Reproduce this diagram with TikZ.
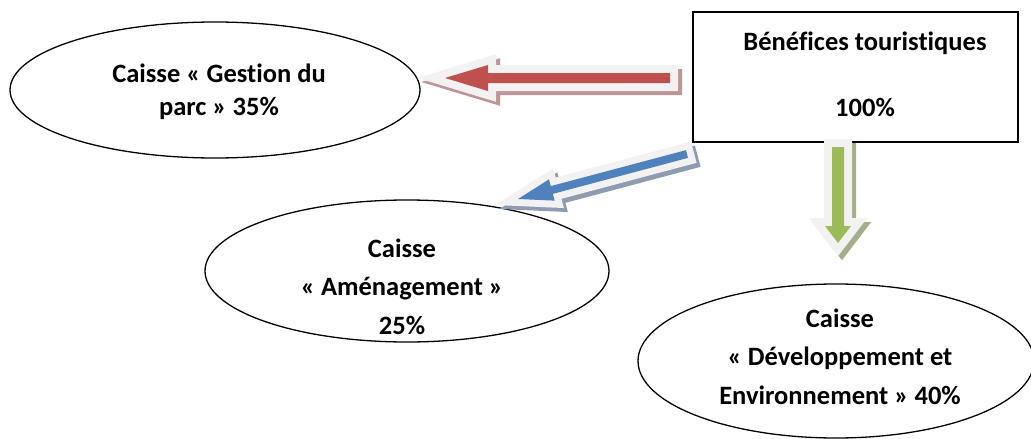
\documentclass[tikz,border=0pt]{standalone}
\usepackage{fontspec}
\setmainfont{Carlito}[Ligatures=NoCommon]
\usetikzlibrary{shapes.geometric,calc}
\definecolor{ared}{HTML}{C0504D}
\definecolor{ablue}{HTML}{4F81BD}
\definecolor{agreen}{HTML}{9BBB59}
\definecolor{sred}{HTML}{BE9494}
\definecolor{sblue}{HTML}{8E9CB2}
\definecolor{sgreen}{HTML}{A3AE8A}
\definecolor{aouter}{HTML}{F2F2F2}
\tikzset{
  ell/.style={draw=black, line width=1.3, ellipse, inner sep=0},
  boxst/.style={draw=black, line width=1.5, rectangle, inner sep=0},
  lbl/.style={font=\bfseries\fontsize{26.5}{38.5}\selectfont, align=center, inner sep=0},
}
% #1 tail, #2 tip, #3 colour, #4 shadow, #5 head length, #6 head half width, #7 shaft half width, #8 margin
\newcommand\blockarrow[8]{%
  \path let \p1=(#1), \p2=(#2) in \pgfextra{%
    \pgfmathsetmacro\baang{atan2(\y1-\y2,\x1-\x2)}%
    \pgfmathsetmacro\balen{veclen(\x1-\x2,\y1-\y2)}%
    \xdef\gbaang{\baang}\xdef\gbalen{\balen}};
  \def\bashape{(0,0) -- (#5,#6) -- (#5,#7) -- (\gbalen,#7) -- (\gbalen,-#7) -- (#5,-#7) -- (#5,-#6) -- cycle}%
  \begin{scope}[shift={(#2)}, shift={(4,4)}, rotate=\gbaang]
    \filldraw[#4, line width=2*#8, line join=miter] \bashape;
  \end{scope}
  \begin{scope}[shift={(#2)}, rotate=\gbaang]
    \filldraw[fill=aouter, draw=aouter, line width=2*#8, line join=miter] \bashape;
    \fill[#3] \bashape;
  \end{scope}}
\begin{document}
\begin{tikzpicture}[x=1pt, y=-1pt]
  \useasboundingbox (0,0) rectangle (1031,439);
  \clip (0,0) rectangle (1031,439);
  \fill[white] (0,0) rectangle (1031,439);
  % nodes
  \node[ell, minimum width=410, minimum height=136] (e1) at (215,90) {};
  \node[ell, minimum width=404, minimum height=142] (e2) at (407,271) {};
  \node[ell, minimum width=396, minimum height=154] (e3) at (836,361) {};
  \node[boxst, minimum width=325, minimum height=130] (box) at (855.5,77) {};
  % texts
  \node[lbl, font=\bfseries\fontsize{26.5}{33}\selectfont] (t1) at (219,91.5) {Caisse « Gestion du\\parc » 35\%};
  \node[lbl] (t2) at (402,286.5) {Caisse\\« Aménagement »\\25\%};
  \node[lbl] (t3) at (840,356.5) {Caisse\\« Développement et\\Environnement » 40\%};
  \node[lbl] (b1) at (865,43) {Bénéfices touristiques};
  \node[lbl] (b2) at (865,107) {100\%};
  % arrow end points
  \coordinate (rtail) at (670,78);
  \coordinate (rtip) at (445,78);
  \coordinate (btail) at (687,154);
  \coordinate (btip) at (518,199);
  \coordinate (gtail) at (838,147);
  \coordinate (gtip) at (838,243);
  \blockarrow{rtail}{rtip}{ared}{sred}{43}{13}{5}{8}
  \blockarrow{btail}{btip}{ablue}{sblue}{35}{11}{4}{7}
  \blockarrow{gtail}{gtip}{agreen}{sgreen}{17}{13}{6}{8}
\end{tikzpicture}
\end{document}
